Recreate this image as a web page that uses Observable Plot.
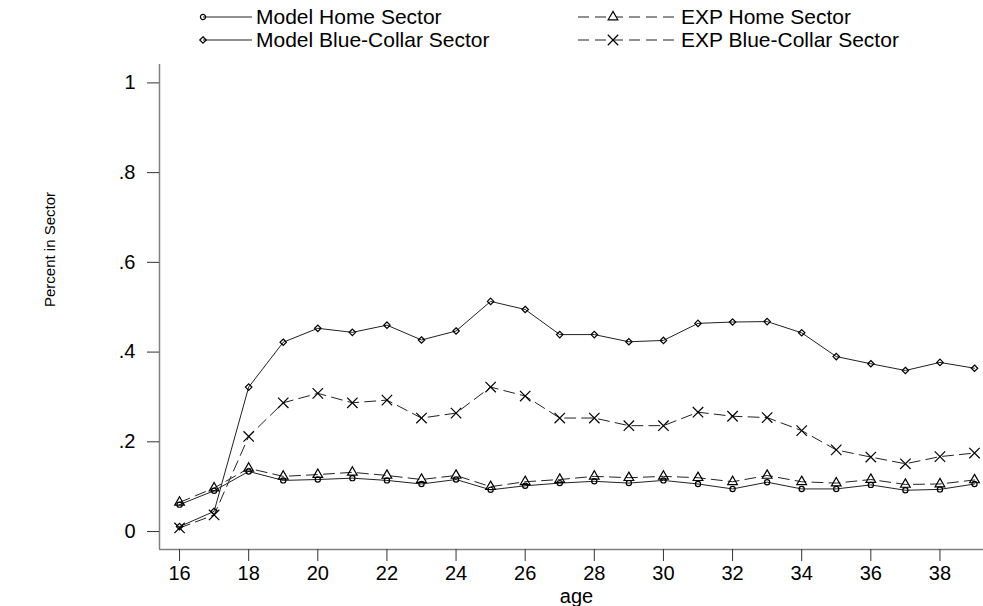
<!DOCTYPE html>
<html><head><meta charset="utf-8">
<script src="https://cdn.jsdelivr.net/npm/d3@7"></script>
<script src="https://cdn.jsdelivr.net/npm/@observablehq/plot@0.6"></script>
<style>
body{margin:0;background:#fff;font-family:Arial,"Liberation Sans",sans-serif;}
#legend svg,#chart svg{display:block}
</style></head><body>
<div id="legend"></div><div id="chart"></div>
<script>
const ages = [16,17,18,19,20,21,22,23,24,25,26,27,28,29,30,31,32,33,34,35,36,37,38,39];
const modelHome = [0.060,0.091,0.134,0.114,0.116,0.119,0.114,0.106,0.116,0.093,0.102,0.108,0.112,0.108,0.114,0.106,0.095,0.110,0.095,0.095,0.104,0.092,0.094,0.106];
const expHome = [0.065,0.097,0.141,0.123,0.127,0.132,0.125,0.116,0.125,0.100,0.111,0.116,0.123,0.120,0.123,0.120,0.111,0.125,0.111,0.108,0.116,0.105,0.106,0.115];
const modelBlue = [0.011,0.045,0.322,0.422,0.453,0.444,0.460,0.427,0.447,0.513,0.495,0.439,0.439,0.423,0.426,0.464,0.467,0.468,0.443,0.390,0.374,0.359,0.377,0.364];
const expBlue = [0.008,0.037,0.212,0.287,0.308,0.287,0.293,0.253,0.264,0.322,0.302,0.253,0.253,0.236,0.236,0.266,0.257,0.254,0.225,0.182,0.166,0.151,0.167,0.175];
const yTicks = [0,0.2,0.4,0.6,0.8,1];
const yTickLabels = ["0",".2",".4",".6",".8","1"];
const xTicks = [16,18,20,22,24,26,28,30,32,34,36,38];
const seriesNames = ["Model Home Sector","EXP Home Sector","Model Blue-Collar Sector","EXP Blue-Collar Sector"];
const xTitle = "age";
const yTitle = "Percent in Sector";

const xDomain = [15.42, 39.26];
const yDomain = [-0.04, 1.041];
const DASH = "11,6";
const series = [
  {name: seriesNames[0], values: modelHome, symbol: "circle", r: 2.6, dash: null},
  {name: seriesNames[1], values: expHome, symbol: "triangle", r: 3.6, dash: DASH},
  {name: seriesNames[2], values: modelBlue, symbol: "diamond2", r: 2.9, dash: null},
  {name: seriesNames[3], values: expBlue, symbol: "times", r: 4.8, dash: DASH}
];
const rows = series.flatMap(s => ages.map((a, i) => ({series: s.name, age: a, v: s.values[i]})));

const lineMarks = series.map(s => {
  const data = rows.filter(d => d.series === s.name);
  return Plot.line(data, {x: "age", y: "v", stroke: "#222", strokeWidth: 1, strokeDasharray: s.dash || undefined});
});
const dotMarks = series.map(s => {
  const data = rows.filter(d => d.series === s.name);
  return Plot.dot(data, {x: "age", y: "v", symbol: s.symbol, r: s.r, stroke: "#000", fill: "none", strokeWidth: 1.2});
});

const chart = Plot.plot({
  width: 983, height: 551,
  marginLeft: 159, marginRight: 0, marginTop: 9, marginBottom: 57,
  x: {domain: xDomain},
  y: {domain: yDomain},
  style: {fontFamily: "Arial, 'Liberation Sans', sans-serif", fontSize: "20px", color: "#000", background: "#fff"},
  marks: [
    Plot.ruleX([xDomain[0]], {stroke: "#808080", strokeWidth: 1.5}),
    Plot.ruleY([yDomain[0]], {stroke: "#808080", strokeWidth: 1.5}),
    Plot.axisY({ticks: yTicks, tickFormat: d => yTickLabels[yTicks.indexOf(d)], tickSize: 12, tickPadding: 12, stroke: "#333", fontSize: 20, label: null}),
    Plot.axisX({ticks: xTicks, tickFormat: d => String(d), tickSize: 12, tickPadding: 4, stroke: "#333", fontSize: 20, label: null}),
    Plot.text([yTitle], {text: d => d, frameAnchor: "left", dx: -109, rotate: -90, fontSize: 15}),
    Plot.text([xTitle], {text: d => d, frameAnchor: "bottom", dx: 5, dy: 53, lineAnchor: "bottom", fontSize: 20}),
    ...lineMarks,
    ...dotMarks
  ]
});
document.getElementById("chart").appendChild(chart);

// Legend (above the plot)
const lg = d3.select("#legend").append("svg").attr("width", 983).attr("height", 55)
  .style("font-family", "Arial, 'Liberation Sans', sans-serif");
const legendLayout = [
  {s: series[0], row: 0, col: 0},
  {s: series[1], row: 0, col: 1},
  {s: series[2], row: 1, col: 0},
  {s: series[3], row: 1, col: 1}
];
const symMap = {circle: d3.symbolCircle, triangle: d3.symbolTriangle, diamond2: d3.symbolDiamond2, times: d3.symbolTimes};
const rowY = [17, 40];
const cols = [
  {x0: 203, x1: 252, mx: 203, tx: 256},
  {x0: 578, x1: 676, mx: 613, tx: 681}
];
legendLayout.forEach(({s, row, col}) => {
  const c = cols[col], y = rowY[row];
  lg.append("line").attr("x1", c.x0).attr("x2", c.x1).attr("y1", y).attr("y2", y)
    .attr("stroke", "#222").attr("stroke-width", 1).attr("stroke-dasharray", s.dash);
  lg.append("path").attr("d", d3.symbol(symMap[s.symbol], Math.PI * s.r * s.r)())
    .attr("transform", `translate(${c.mx},${y})`).attr("fill", col === 1 ? "#fff" : "none").attr("stroke", "#000").attr("stroke-width", 1.2);
  lg.append("text").attr("x", c.tx).attr("y", y).attr("dy", "0.35em").attr("font-size", 21).text(s.name);
});
</script>
</body></html>
